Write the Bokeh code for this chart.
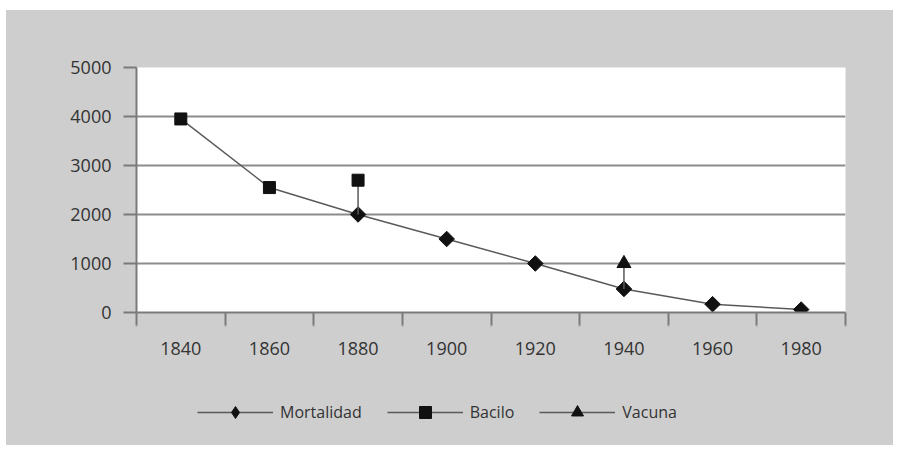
from bokeh.plotting import figure
from bokeh.layouts import column
from bokeh.models import (FactorRange, Range1d, CategoricalAxis, FixedTicker, Legend,
                          LegendItem, ColumnDataSource)
from bokeh.embed import file_html
from bokeh.resources import INLINE
import math

# ---- data ----
years = ["1840", "1860", "1880", "1900", "1920", "1940", "1960", "1980"]
mortalidad = [3950, 2550, 2000, 1500, 1000, 480, 170, 60]
bacilo_year = "1880"
bacilo = 2700
vacuna_year = "1940"
vacuna = 1000
y_ticks = [0, 1000, 2000, 3000, 4000, 5000]
series_names = ["Mortalidad", "Bacilo", "Vacuna"]

# ---- styles ----
BG = "#cecece"
FONT = "Open Sans"
TXT = "#333333"
AX = "#7a7a7a"
LINE = "#5a5a5a"
MK = "#111111"
mort_shapes = ["square", "square", "diamond", "diamond", "diamond", "diamond", "diamond", "diamond"]

p = figure(width=887, height=365, output_backend="svg", toolbar_location=None,
           x_range=FactorRange(*years), y_range=Range1d(0, 5000),
           x_axis_location=None, min_border_left=130, min_border_right=48,
           min_border_top=57, min_border_bottom=63, margin=0)
p.background_fill_color = "white"
p.border_fill_color = BG
p.outline_line_color = None

# horizontal grid
p.xgrid.visible = False
p.ygrid.ticker = FixedTicker(ticks=y_ticks[1:-1])
p.ygrid.grid_line_color = "#8c8c8c"
p.ygrid.grid_line_width = 2

# y axis
ya = p.yaxis[0]
ya.ticker = FixedTicker(ticks=y_ticks)
ya.axis_line_color = AX
ya.axis_line_width = 2
ya.major_tick_line_color = AX
ya.major_tick_line_width = 2
ya.major_tick_out = 13
ya.major_tick_in = 0
ya.minor_tick_line_color = None
ya.major_label_standoff = 12
ya.major_label_text_font = FONT
ya.major_label_text_font_size = "18px"
ya.major_label_text_color = TXT

# boundary ticks: a second factor range whose factor centres sit on the bin edges
edges = ["e%d" % i for i in range(len(years) + 1)]
p.extra_x_ranges = {"edges": FactorRange(factors=edges, range_padding=-0.499,
                                         range_padding_units="absolute")}
ea = CategoricalAxis(x_range_name="edges",
                     major_label_overrides={e: "" for e in edges})
ea.axis_line_color = AX
ea.axis_line_width = 2
ea.major_tick_out = 13
ea.major_tick_in = 0
ea.major_tick_line_color = AX
ea.major_tick_line_width = 2
ea.major_label_standoff = 0
ea.major_label_text_font_size = "1px"
p.add_layout(ea, "below")

# year labels at category centres
xa = CategoricalAxis()
xa.axis_line_color = None
xa.major_tick_line_color = None
xa.major_tick_out = 0
xa.major_tick_in = 0
xa.major_label_standoff = 12
xa.major_label_text_font = FONT
xa.major_label_text_font_size = "18px"
xa.major_label_text_color = TXT
p.add_layout(xa, "below")

# series (diamonds are rotated squares)
src = ColumnDataSource(dict(x=years, y=mortalidad,
                            angle=[0 if m == "square" else math.pi / 4 for m in mort_shapes],
                            size=[12 if m == "square" else 11 for m in mort_shapes]))
p.line("x", "y", source=src, line_color=LINE, line_width=1.5)
p.scatter("x", "y", source=src, marker="square", angle="angle", size="size",
          fill_color=MK, line_color=MK)

bi = years.index(bacilo_year)
p.line([bacilo_year, bacilo_year], [mortalidad[bi], bacilo], line_color=LINE, line_width=1.5)
p.scatter([bacilo_year], [bacilo], marker="square", size=12, fill_color=MK, line_color=MK)

vi = years.index(vacuna_year)
p.line([vacuna_year, vacuna_year], [mortalidad[vi], vacuna], line_color=LINE, line_width=1.5)
p.scatter([vacuna_year], [vacuna], marker="triangle", size=14, fill_color=MK, line_color=MK)

# ---- legend strip (separate figure so it is not clipped by the chart frame) ----
q = figure(width=887, height=70, output_backend="svg", toolbar_location=None,
           x_range=Range1d(0, 1), y_range=Range1d(0, 1),
           x_axis_location=None, y_axis_location=None,
           min_border=0, margin=0)
q.background_fill_color = BG
q.border_fill_color = BG
q.outline_line_color = None
q.xgrid.visible = False
q.ygrid.visible = False

items = []
for name, mk in zip(series_names, ["diamond", "square", "triangle"]):
    # sample glyphs kept outside the visible range: only their legend entry shows
    lr = q.line(x=[5, 6], y=[5, 5], line_color=LINE, line_width=1.5)
    sr = q.scatter(x=[5], y=[5], marker=mk, fill_color=MK, line_color=MK)
    items.append(LegendItem(label=name, renderers=[lr, sr]))

legend = Legend(items=items, orientation="horizontal", location=(61, 18),
                glyph_width=76, glyph_height=30, label_standoff=7, spacing=25,
                padding=0, margin=0, border_line_color=None,
                background_fill_alpha=0,
                label_text_font=FONT, label_text_font_size="16px",
                label_text_color=TXT)
q.add_layout(legend, "center")

layout = column(p, q, spacing=0, margin=(10, 0, 0, 6),
                styles={"background-color": BG})
open("out.html", "w").write(file_html(layout, INLINE))
